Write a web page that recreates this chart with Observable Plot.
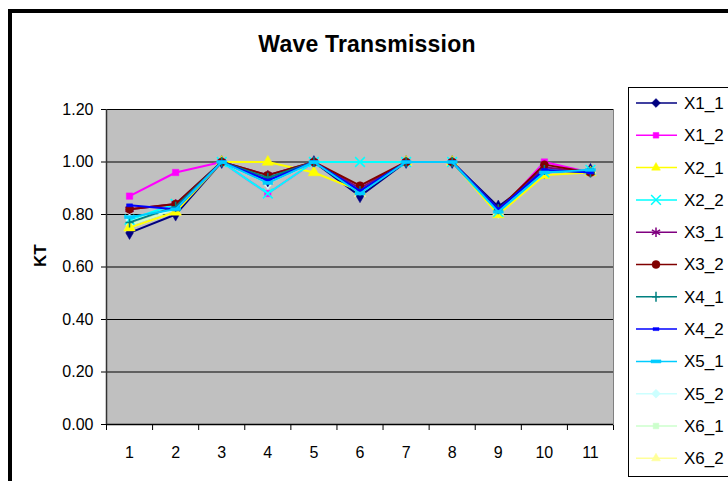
<!DOCTYPE html>
<html>
<head>
<meta charset="utf-8">
<script src="https://cdn.jsdelivr.net/npm/d3@7"></script>
<script src="https://cdn.jsdelivr.net/npm/@observablehq/plot@0.6"></script>
<style>
  html, body { margin: 0; padding: 0; background: #fff; }
  #wrap { position: relative; width: 728px; height: 481px; overflow: hidden; font-family: "Liberation Sans", Arial, sans-serif; }
  #frameTop { position: absolute; left: 8px; top: 9px; width: 730px; height: 4px; background: #000; }
  #frameLeft { position: absolute; left: 8px; top: 9px; width: 4px; height: 480px; background: #000; }
  #title { position: absolute; left: 0; width: 734px; top: 31px; text-align: center; font-weight: bold; font-size: 23px; color: #000; letter-spacing: 0.2px; }
  #chart { position: absolute; left: 0; top: 0; }
  #legend { position: absolute; left: 0; top: 0; }
</style>
</head>
<body>
<div id="wrap">
  <div id="frameTop"></div>
  <div id="frameLeft"></div>
  <div id="title">Wave Transmission</div>
  <div id="chart"></div>
  <svg id="legend" width="728" height="481"></svg>
</div>
<script>
// ---- data ----
const categories = [1, 2, 3, 4, 5, 6, 7, 8, 9, 10, 11];
const seriesNames = ["X1_1", "X1_2", "X2_1", "X2_2", "X3_1", "X3_2", "X4_1", "X4_2", "X5_1", "X5_2", "X6_1", "X6_2"];
const X1_1 = [0.73, 0.80, 1.00, 0.93, 1.00, 0.87, 1.00, 1.00, 0.83, 0.96, 0.97];
const X1_2 = [0.87, 0.96, 1.00, 0.88, 1.00, 0.89, 1.00, 1.00, 0.81, 1.00, 0.96];
const X2_1 = [0.75, 0.81, 1.00, 1.00, 0.96, 0.89, 1.00, 1.00, 0.80, 0.95, 0.96];
const X2_2 = [0.78, 0.84, 1.00, 0.88, 1.00, 1.00, 1.00, 1.00, 0.81, 0.96, 0.97];
const X3_1 = [0.82, 0.84, 1.00, 0.95, 1.00, 0.90, 1.00, 1.00, 0.82, 0.98, 0.96];
const X3_2 = [0.82, 0.84, 1.00, 0.95, 1.00, 0.91, 1.00, 1.00, 0.82, 0.99, 0.96];
const X4_1 = [0.77, 0.83, 1.00, 0.94, 1.00, 0.89, 1.00, 1.00, 0.82, 0.97, 0.96];
const X4_2 = [0.835, 0.82, 1.00, 0.93, 1.00, 0.89, 1.00, 1.00, 0.82, 0.97, 0.96];
const X5_1 = [0.79, 0.82, 1.00, 0.92, 1.00, 0.88, 1.00, 1.00, 0.81, 0.96, 0.97];
const X5_2 = [0.78, 0.82, 1.00, 0.92, 1.00, 0.88, 1.00, 1.00, 0.81, 0.96, 0.97];
const X6_1 = [0.76, 0.82, 1.00, 0.92, 1.00, 0.88, 1.00, 1.00, 0.81, 0.96, 0.97];
const X6_2 = [0.75, 0.81, 1.00, 0.93, 1.00, 0.88, 1.00, 1.00, 0.81, 0.96, 0.97];
const seriesValues = [X1_1, X1_2, X2_1, X2_2, X3_1, X3_2, X4_1, X4_2, X5_1, X5_2, X6_1, X6_2];
const seriesColors = ["#000080", "#FF00FF", "#FFFF00", "#00FFFF", "#800080", "#800000", "#008080", "#0000FF", "#00CCFF", "#CCFFFF", "#CCFFCC", "#FFFF99"];
const yTicks = [0, 0.2, 0.4, 0.6, 0.8, 1.0, 1.2];
// paint order (pale series underneath)
const drawOrder = [11, 10, 9, 0, 1, 2, 3, 4, 5, 6, 7, 8];

// ---- marker symbols ----
const rectSym = (w, h) => ({ draw(ctx) { ctx.rect(-w / 2, -h / 2, w, h); } });
const vbarSym = { draw(ctx) { ctx.moveTo(0, -5); ctx.lineTo(0, 5); ctx.moveTo(-4, 0); ctx.lineTo(4, 0); } };
const markers = [
  { symbol: "diamond", filled: true, r: 4 },
  { symbol: "square", filled: true, r: 3.6 },
  { symbol: "triangle", filled: true, r: 4.2 },
  { symbol: "times", filled: false, r: 4.5 },
  { symbol: "asterisk", filled: false, r: 4.5 },
  { symbol: "circle", filled: true, r: 4 },
  { symbol: vbarSym, filled: false, r: 4 },
  { symbol: rectSym(6, 3), filled: true, r: 4 },
  { symbol: rectSym(10, 3), filled: true, r: 4 },
  { symbol: "diamond", filled: true, r: 4 },
  { symbol: "square", filled: true, r: 3.6 },
  { symbol: "triangle", filled: true, r: 4.2 }
];

const rows = seriesNames.map((name, i) => categories.map((c, j) => ({ series: name, cat: c, v: seriesValues[i][j] })));
const boundaries = d3.range(0.5, 12, 1);

const marks = [
  Plot.frame({ fill: "#C0C0C0", stroke: "#808080" }),
  Plot.ruleY(yTicks.filter(d => d > 0), { stroke: "#000", strokeWidth: 1.2 }),
  Plot.ruleY([0], { stroke: "#000", strokeWidth: 1.5 }),
  Plot.ruleX([0.5], { stroke: "#333", strokeWidth: 1.5 }),
  Plot.text(categories, { x: d => d, y: 0, dy: 28, text: d => String(d), fontSize: 16, fill: "#000", textAnchor: "middle" }),
  Plot.text(["KT"], { frameAnchor: "left", dx: -66, rotate: -90, text: d => d, fontSize: 17, fontWeight: "bold", fill: "#000" })
];
drawOrder.forEach(i => {
  const data = rows[i];
  const m = markers[i];
  const col = seriesColors[i];
  marks.push(Plot.line(data, { x: "cat", y: "v", stroke: col, strokeWidth: 2 }));
  marks.push(Plot.dot(data, {
    x: "cat", y: "v", symbol: m.symbol, r: m.r,
    fill: m.filled ? col : "none", stroke: col, strokeWidth: m.filled ? 0.5 : 1.5
  }));
});

const chart = Plot.plot({
  width: 728,
  height: 481,
  marginLeft: 106,
  marginRight: 115,
  marginTop: 109,
  marginBottom: 57,
  style: { background: "transparent", fontFamily: "'Liberation Sans', Arial, sans-serif", fontSize: "16px", color: "#000", overflow: "visible" },
  x: { type: "linear", domain: [0.5, 11.5], ticks: boundaries, tickFormat: () => "", tickSize: 6, label: null },
  y: { domain: [0, 1.2], ticks: yTicks, tickFormat: d3.format(".2f"), tickSize: 5, tickPadding: 8, label: null },
  marks
});
document.getElementById("chart").appendChild(chart);

// ---- legend ----
const lg = d3.select("#legend");
lg.append("rect").attr("x", 628.5).attr("y", 87.5).attr("width", 110).attr("height", 389).attr("fill", "#fff").attr("stroke", "#000");
const symMap = { diamond: d3.symbolDiamond2, square: d3.symbolSquare2, triangle: d3.symbolTriangle2, times: d3.symbolTimes, asterisk: d3.symbolAsterisk, circle: d3.symbolCircle };
seriesNames.forEach((name, i) => {
  const y = 103 + i * 32.3;
  const col = seriesColors[i];
  const m = markers[i];
  const g = lg.append("g");
  g.append("line").attr("x1", 636).attr("x2", 677).attr("y1", y).attr("y2", y).attr("stroke", col).attr("stroke-width", 1.5);
  const sym = typeof m.symbol === "string" ? symMap[m.symbol] : m.symbol;
  g.append("path").attr("transform", `translate(656,${y})`)
    .attr("d", d3.symbol(sym, Math.PI * m.r * m.r)())
    .attr("fill", m.filled ? col : "none").attr("stroke", col).attr("stroke-width", m.filled ? 0.5 : 1.5);
  g.append("text").attr("x", 684).attr("y", y).attr("dy", "0.35em").attr("font-size", 17).attr("fill", "#000").text(name);
});
</script>
</body>
</html>
